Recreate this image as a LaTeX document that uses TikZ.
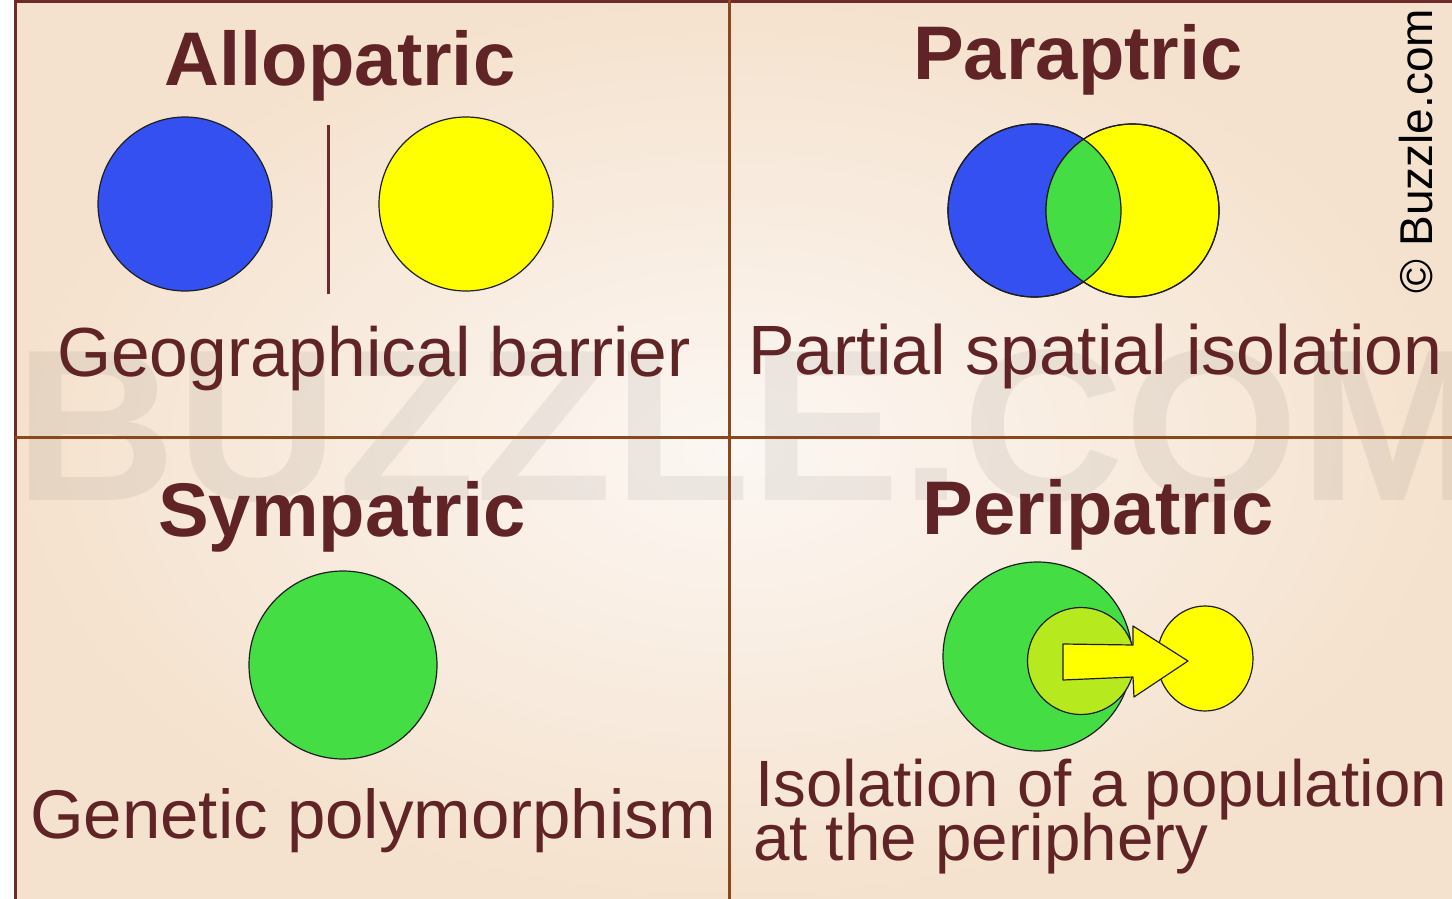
\documentclass[tikz,border=0pt]{standalone}
\usepackage{fontspec}
\setmainfont{Liberation Sans}
\usetikzlibrary{shapes.geometric}
\definecolor{txt}{RGB}{96,36,38}
\definecolor{divider}{RGB}{138,72,28}
\definecolor{frame}{RGB}{110,42,42}
\definecolor{bgout}{RGB}{245,226,206}
\definecolor{bgin}{RGB}{252,247,243}
\definecolor{cblue}{RGB}{52,80,240}
\definecolor{cyellow}{RGB}{255,255,0}
\definecolor{cgreen}{RGB}{68,221,68}
\definecolor{clime}{RGB}{182,234,30}
\definecolor{outl}{RGB}{30,30,30}
\tikzset{
  x=1pt, y=-1pt,
  title/.style={anchor=base, text=txt, font=\fontsize{76}{76}\selectfont\bfseries, inner sep=0pt},
  caption/.style={anchor=base west, text=txt, inner sep=0pt},
  disc/.style={circle, draw=outl, line width=1.2pt, inner sep=0pt},
  divline/.style={draw=divider, line width=3pt},
}
\begin{document}
\begin{tikzpicture}
\useasboundingbox (0,0) rectangle (1452,899);
% background
\fill[white] (0,0) rectangle (1452,899);
\shade[inner color=bgin, outer color=bgout] (15,0) rectangle (1452,899);
% watermark
\node[anchor=base west, inner sep=0pt, text=black, opacity=0.06, xscale=1.04,
      font=\fontsize{216}{216}\selectfont\bfseries] (wm) at (14,500) {BUZZLE.COM};
% frame and dividers
\coordinate (tl) at (15,1.5);
\coordinate (tr) at (1452,1.5);
\coordinate (bl) at (15,899);
\draw[draw=frame, line width=3pt] (bl) -- (tl) -- (tr);
\coordinate (vt) at (729,0);
\coordinate (vb) at (729,899);
\coordinate (hl) at (15,437);
\coordinate (hr) at (1452,437);
\draw[divline] (vt) -- (vb);
\draw[divline] (hl) -- (hr);

% titles
\node[title] (t1) at (340,85) {Allopatric};
\node[title] (t2) at (1078,80) {Paraptric};
\node[title] (t3) at (342,536) {Sympatric};
\node[title] (t4) at (1098,534) {Peripatric};

% captions
\node[caption, font=\fontsize{69.5}{69.5}\selectfont] (c1) at (57,376) {Geographical barrier};
\node[caption, font=\fontsize{69.8}{69.8}\selectfont] (c2) at (748,374) {Partial spatial isolation};
\node[caption, font=\fontsize{69}{69}\selectfont] (c3) at (30,838) {Genetic polymorphism};
\node[caption, font=\fontsize{65.5}{65.5}\selectfont] (c4a) at (755,806) {Isolation of a population};
\node[caption, font=\fontsize{65.5}{65.5}\selectfont] (c4b) at (753,860) {at the periphery};

% copyright
\node[anchor=base, inner sep=0pt, rotate=90, text=black, font=\fontsize{46}{46}\selectfont] (copy) at (1432,151) {\textcopyright\ Buzzle.com};

% Allopatric
\node[disc, fill=cblue, minimum size=174pt] (ab) at (185,204) {};
\node[disc, fill=cyellow, minimum size=174pt] (ay) at (466,204) {};
\coordinate (bt) at (328,125);
\coordinate (bb) at (328,294);
\draw[draw=frame, line width=3pt] (bt) -- (bb);

% Parapatric
\node[disc, fill=cblue, minimum size=173pt] (pb) at (1034.5,210.5) {};
\node[disc, fill=cyellow, minimum size=173pt] (py) at (1132.5,210.5) {};
\begin{scope}
  \clip (1034.5,210.5) circle[radius=86.5pt];
  \fill[cgreen] (1132.5,210.5) circle[radius=86.5pt];
\end{scope}
\draw[outl, line width=1.2pt] (1034.5,210.5) circle[radius=86.5pt];
\draw[outl, line width=1.2pt] (1132.5,210.5) circle[radius=86.5pt];

% Sympatric
\node[disc, fill=cgreen, minimum size=188pt] (sg) at (343,665) {};

% Peripatric
\node[disc, fill=cgreen, minimum size=189pt] (big) at (1037.5,656.5) {};
\node[disc, fill=clime, minimum size=107pt] (inner) at (1081,661) {};
\node[ellipse, draw=outl, line width=1.2pt, fill=cyellow, inner sep=0pt,
      minimum width=96pt, minimum height=105pt] (small) at (1205,658.5) {};
\draw[outl, line width=1.2pt, fill=cyellow, line join=round]
  (1063,644) -- (1133,645) -- (1133,626) -- (1188,661) -- (1134,697)
  -- (1133,677) -- (1063,680) -- cycle;
\end{tikzpicture}
\end{document}
